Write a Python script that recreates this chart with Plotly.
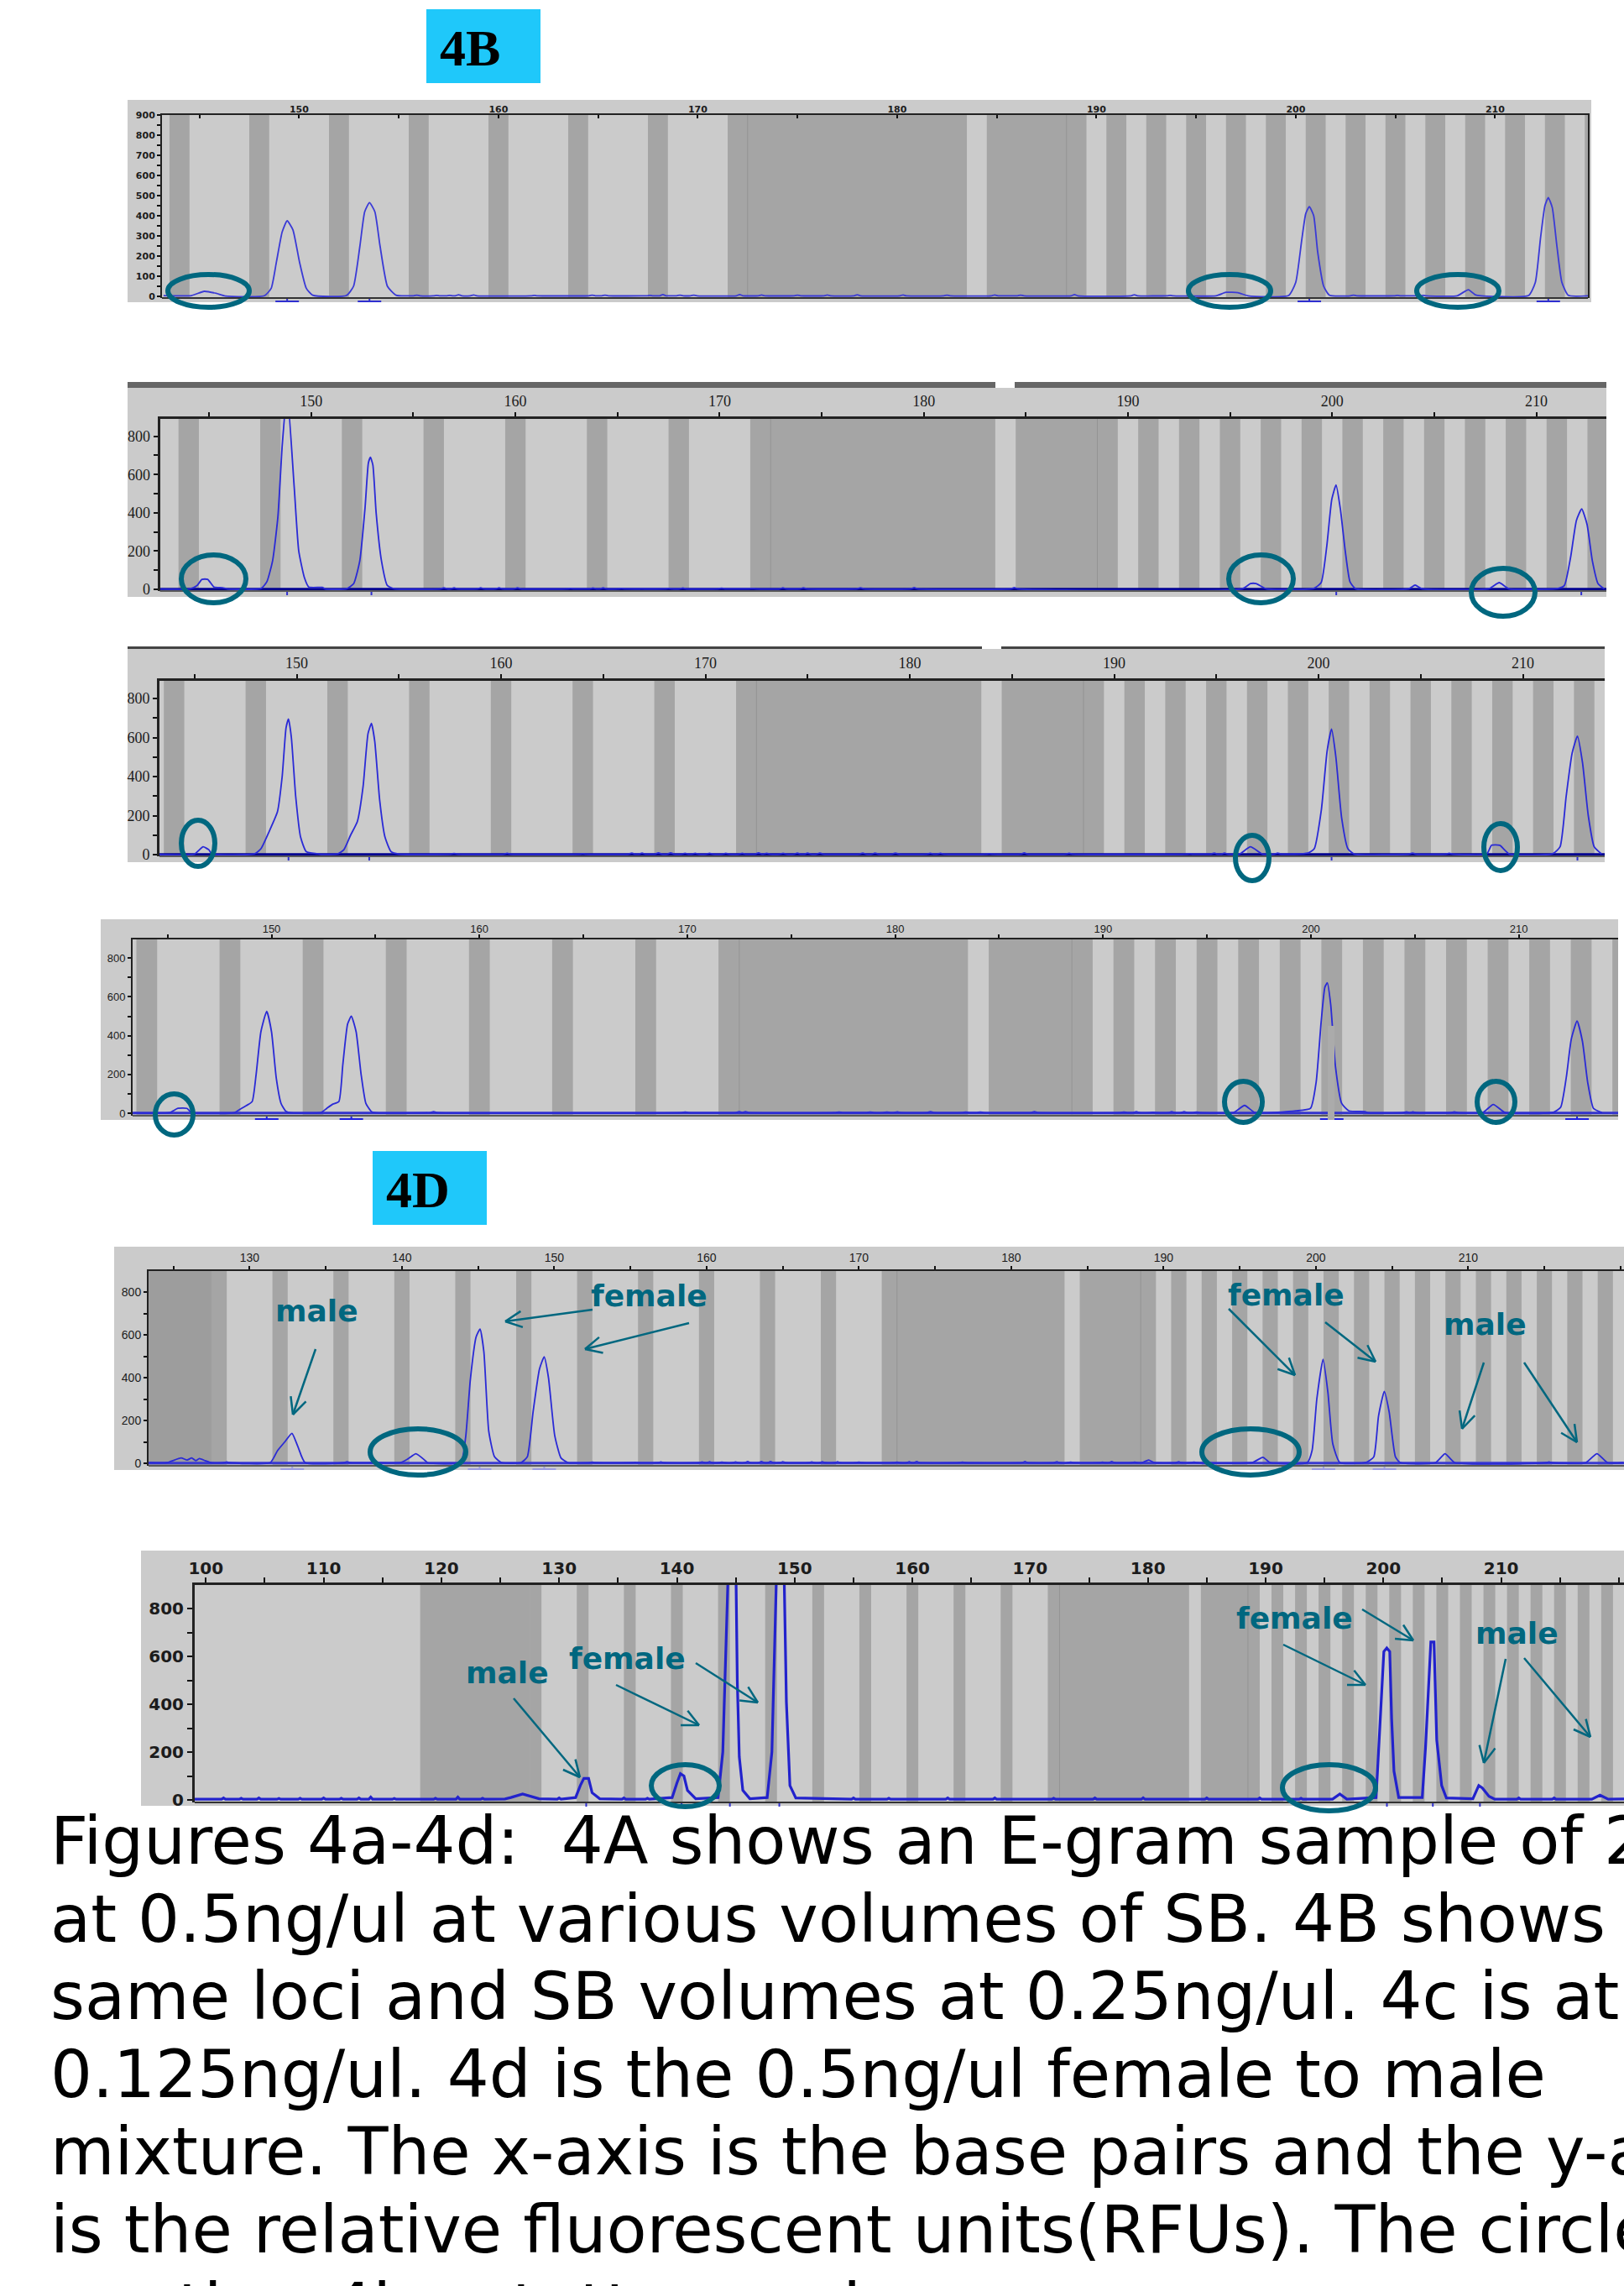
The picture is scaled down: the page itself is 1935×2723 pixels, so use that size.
import math
import plotly.graph_objects as go

W, H = 1935, 2723
TEAL = "#00677f"
LIGHT = "#cbcbcb"
DARK = "#a5a5a5"

# dark allele-bin stripes on the base-pair scale
stripe_lo = [118.2, 127.5, 131.5, 135.5, 139.5, 143.5, 147.5, 151.5, 155.5, 159.5, 163.5, 167.5, 171.5,
             184.5, 190.5, 192.5, 194.5, 196.5, 198.5, 200.5, 202.5, 204.5, 206.5, 208.5, 210.5, 212.5,
             214.5, 216.5, 218.5, 220.5]
stripe_hi = [127.5, 128.5, 132.5, 136.5, 140.5, 144.5, 148.5, 152.5, 156.5, 160.5, 164.5, 168.5, 183.5,
             189.5, 191.5, 193.5, 195.5, 197.5, 199.5, 201.5, 203.5, 205.5, 207.5, 209.5, 211.5, 213.5,
             215.5, 217.5, 219.5, 221.5]
bin_edges = [172.5, 188.5]

# ---------- panel traces: base pairs / RFU ----------
x1 = [143.2, 144.6, 145.24, 145.84, 146.3, 148.26, 148.6, 148.86, 149.15, 149.4, 149.69, 150.02, 150.36, 150.68,
      152.37, 152.73, 153.05, 153.29, 153.53, 153.8, 154.06, 154.43, 154.86,
      196.0, 196.5, 197.1, 197.6, 199.64, 200.0, 200.3, 200.5, 200.68, 200.9, 201.1, 201.4, 201.7,
      208.1, 208.66, 209.0, 209.3, 211.68, 212.02, 212.28, 212.5, 212.67, 212.87, 213.1, 213.35, 213.67, 214.66]
y1 = [4, 4, 25, 15, 2, 3, 40, 170, 320, 375, 330, 170, 40, 6,
      4, 50, 250, 420, 465, 420, 250, 50, 6,
      3, 20, 18, 3, 4, 70, 280, 410, 445, 400, 220, 50, 5,
      3, 33, 8, 3, 4, 70, 290, 450, 490, 440, 250, 70, 5, 3]
bx1 = [155.9, 156.9, 157.55, 158.0, 158.75, 161.8, 164.7, 165.35, 167.6, 168.25, 169.1, 169.8, 172.1, 173.2, 175.0,
       176.5, 178.0, 180.3, 182.5, 184.9, 186.2, 188.9, 191.9, 193.7, 202.9, 205.1, 206.4]
bh1 = [6, 5, 5, 8, 7, 5, 6, 6, 5, 9, 6, 6, 9, 7, 6, 7, 8, 7, 6, 7, 6, 9, 8, 5, 6, 5, 5]
stem1 = [149.4, 153.53, 200.68, 212.67]

x2 = [142.6, 144.06, 144.41, 144.65, 144.93, 145.24, 145.66, 145.9, 147.55, 147.83, 148.11, 148.37, 148.58, 148.82,
      149.17, 149.39, 149.67, 149.88, 150.54, 150.7, 151.72, 152.08, 152.38, 152.64, 152.8, 152.9, 153.02, 153.18,
      153.44, 153.73, 154.08, 195.6, 196.0, 196.27, 196.8, 199.1, 199.46, 199.74, 199.98, 200.19, 200.4, 200.64,
      200.87, 201.15, 203.75, 204.06, 204.4, 207.66, 208.18, 208.65, 211.06, 211.37, 211.68, 211.96, 212.22,
      212.48, 212.74, 213.02, 213.33]
y2 = [2, 3, 20, 52, 52, 12, 8, 2, 5, 40, 150, 380, 750, 1030,
      530, 200, 60, 12, 10, 2, 3, 30, 150, 430, 660, 690, 650, 400,
      150, 20, 3, 3, 30, 30, 2, 5, 35, 230, 470, 545, 420, 200,
      40, 3, 3, 22, 3, 3, 35, 3, 5, 20, 170, 360, 420,
      340, 150, 30, 2]
bx2 = [156.5, 157.0, 158.3, 159.2, 160.1, 162.7, 163.8, 164.3, 165.2, 167.5, 168.2, 170.1, 171.6, 173.1, 174.1, 176.9, 179.53, 184.43]
bh2 = [8, 8, 8, 8, 8, 5, 7, 8, 5, 5, 7, 6, 4, 8, 8, 8, 9, 9]
stem2 = [148.82, 152.95, 200.2, 212.2]

x3 = [142.8, 145.0, 145.42, 145.7, 145.85, 147.95, 148.25, 148.66, 149.06, 149.29, 149.48, 149.6, 149.74, 149.95,
      150.19, 150.47, 151.0, 151.2, 152.03, 152.31, 152.64, 152.97, 153.25, 153.49, 153.66, 153.82, 154.06, 154.32,
      154.62, 155.0, 196.13, 196.67, 197.26, 199.48, 199.79, 200.14, 200.42, 200.64, 200.85, 201.13, 201.44, 201.75,
      208.23, 208.47, 208.87, 209.34, 211.46, 211.82, 212.12, 212.41, 212.67, 212.92, 213.2, 213.49, 213.85]
y3 = [2, 3, 40, 25, 3, 5, 30, 120, 220, 400, 650, 695, 600, 300,
      90, 15, 5, 2, 5, 25, 100, 170, 350, 620, 672, 580, 280, 90,
      15, 3, 3, 40, 3, 8, 30, 230, 530, 643, 500, 190, 30, 3,
      3, 48, 48, 3, 5, 40, 300, 520, 607, 470, 200, 40, 3]
bx3 = [157.7, 160.3, 164.0, 166.4, 166.9, 167.7, 168.3, 169.0, 169.5, 170.2, 171.0, 171.8, 172.6, 173.0, 173.8, 174.5,
       175.0, 175.6, 177.7, 178.3, 179.3, 181.0, 181.5, 183.9, 185.6, 187.8, 193.7, 194.9, 195.4, 198.0, 204.6, 206.4]
bh3 = [6, 7, 5, 8, 8, 9, 9, 7, 7, 7, 7, 7, 9, 7, 7, 8, 8, 8, 8, 8, 8, 7, 7, 5, 9, 7, 5, 8, 8, 8, 8, 7]
stem3 = [149.6, 153.55, 200.64, 212.67]

x4 = [143.4, 145.09, 145.5, 145.93, 146.15, 148.22, 148.56, 148.8, 149.07, 149.26, 149.49, 149.77, 150.0, 150.23,
      150.46, 150.69, 150.95, 152.38, 152.66, 152.92, 153.24, 153.43, 153.66, 153.84, 154.07, 154.31, 154.54, 154.81,
      155.05, 196.27, 196.81, 197.31, 199.28, 199.98, 200.25, 200.49, 200.67, 200.79, 200.95, 201.18, 201.48, 201.83,
      202.6, 202.75, 208.26, 208.77, 209.35, 211.67, 212.01, 212.29, 212.52, 212.8, 213.06, 213.31, 213.59, 214.0]
y4 = [2, 3, 25, 25, 3, 3, 25, 40, 60, 200, 420, 525, 420, 180,
      50, 10, 2, 3, 25, 45, 60, 250, 460, 500, 420, 200, 50, 8,
      2, 3, 40, 3, 12, 25, 160, 470, 650, 672, 560, 240, 50, 12,
      8, 2, 3, 45, 3, 5, 30, 190, 380, 475, 370, 160, 25, 3]
bx4 = [157.8, 169.9, 172.5, 172.8, 177.3, 178.8, 179.6, 180.1, 181.7, 183.4, 184.1, 186.7, 191.0, 191.6, 192.4, 193.3, 193.9, 194.5, 204.6, 204.9, 206.9]
bh4 = [8, 6, 8, 8, 6, 6, 6, 7, 8, 6, 6, 8, 6, 8, 5, 8, 8, 6, 7, 7, 7]
stem4 = [149.77, 153.84, 201.0, 212.8]

x5 = [123.4, 124.56, 125.5, 125.9, 126.2, 126.46, 126.7, 127.09, 127.5, 131.36, 131.84, 132.31, 132.78, 133.16, 133.64,
      139.9, 140.38, 140.92, 141.49, 141.7, 143.86, 144.18, 144.49, 144.87, 145.13, 145.38, 145.7, 146.08, 146.55,
      147.82, 148.23, 148.61, 149.03, 149.34, 149.62, 150.03, 150.44, 150.9, 188.6, 189.02, 189.4, 195.82, 196.52,
      196.99, 199.43, 199.75, 200.06, 200.47, 200.79, 201.11, 201.58, 203.32, 203.8, 204.11, 204.49, 204.81, 205.22,
      205.54, 207.85, 208.48, 209.11, 217.72, 218.45, 219.15, 220.2]
y5 = [3, 3, 25, 15, 25, 12, 22, 12, 2, 3, 60, 100, 140, 80, 3,
      3, 20, 45, 15, 2, 5, 120, 390, 590, 627, 520, 150, 30, 3,
      3, 30, 240, 440, 497, 400, 130, 25, 3, 3, 15, 3, 3, 28,
      3, 3, 60, 300, 486, 330, 90, 3, 5, 30, 220, 336, 240, 30,
      3, 3, 45, 3, 3, 45, 3, 3]
bx5 = [128.5, 136.4, 138.2, 152.5, 155.3, 157.0, 159.7, 160.2, 161.0, 161.9, 162.7, 163.6, 164.2, 165.0, 166.9, 167.6, 168.6, 170.0,
       172.5, 173.3, 173.8, 176.8, 180.9, 183.0, 183.9, 186.0, 186.6, 188.1, 191.0, 192.0, 215.3]
bh5 = [6, 7, 5, 5, 4, 6, 6, 7, 5, 6, 8, 8, 8, 7, 6, 7, 7, 5, 5, 7, 8, 5, 8, 7, 5, 5, 8, 5, 7, 5, 6]
stem5 = [132.8, 145.1, 149.34, 200.5, 204.5]

x6 = [99.0, 125.4, 125.9, 126.9, 127.7, 128.3, 131.4, 131.8, 132.1, 132.5, 132.8, 133.45, 139.6, 140.0, 140.3, 140.6,
      140.9, 141.6, 143.5, 143.9, 144.15, 144.4, 145.0, 145.13, 145.3, 145.6, 146.2, 147.67, 148.07, 148.3, 148.5,
      149.08, 149.3, 149.6, 150.1, 195.68, 196.3, 196.9, 199.38, 199.5, 199.8, 200.04, 200.29, 200.54, 200.7, 200.9,
      201.3, 203.3, 203.58, 203.9, 204.03, 204.3, 204.53, 204.95, 205.35, 207.6, 208.1, 208.4, 208.97, 209.46, 217.7,
      218.4, 219.1, 220.5]
y6 = [3, 4, 10, 25, 15, 5, 10, 60, 90, 90, 30, 5, 10, 70, 110, 100,
      40, 5, 10, 200, 660, 1020, 1020, 500, 180, 40, 5, 10, 200, 660, 1020,
      1020, 410, 60, 8, 3, 25, 3, 10, 120, 396, 620, 635, 620, 340, 120,
      10, 10, 220, 520, 660, 660, 250, 60, 8, 5, 60, 50, 15, 3, 3,
      20, 3, 4]
bx6 = [101.5, 103.0, 104.5, 106.2, 108.0, 110.0, 111.5, 113.0, 114.0, 116.0, 119.5, 121.4, 123.5, 130.0, 135.5, 137.5, 155.0, 158.0, 163.0,
       167.0, 172.0, 175.5, 179.6, 185.0, 189.5, 193.0, 211.5, 214.5]
bh6 = [8, 7, 8, 6, 7, 8, 7, 8, 12, 6, 7, 12, 7, 8, 8, 7, 8, 7, 8, 8, 7, 8, 9, 8, 8, 7, 8, 8]
stem6 = [132.3, 140.4, 144.5, 148.7, 200.3, 204.2, 208.2]

ytick_1 = list(range(0, 901, 50))
ylab_1 = [str(v) if v % 100 == 0 else "" for v in ytick_1]
ytick_n = list(range(0, 901, 100))
ylab_n = [str(v) if v % 200 == 0 else "" for v in ytick_n]
xtick = list(range(100, 226, 5))
xlab = [str(v) if v % 10 == 0 else "" for v in xtick]

PANELS = [
    dict(x=x1, y=y1, bx=bx1, bh=bh1, stem=stem1, stem_bar=True, stem_c="#3030d0", l=193, r=1892, t=137, b=355,
         ref=150, refpx=356.4, s=23.75, y0=353, u=0.24, yt=ytick_1, yl=ylab_1, font="DejaVu Sans", fs=11, bold=True,
         lw=1.8, col="#3a3ad6", base=None, axw=2, tl=4, bg=(152, 1896, 119, 360), rline=True, bot="#333333", stand=-3, xticks="inside"),
    dict(x=x2, y=y2, bx=bx2, bh=bh2, stem=stem2, stem_bar=False, stem_c="#3030d0", l=190.5, r=1914, t=499, b=704,
         ref=150, refpx=370.8, s=24.33, y0=702, u=0.228, yt=ytick_n, yl=ylab_n, font="Liberation Sans Narrow", fs=18, bold=False,
         lw=1.8, col="#2a2ad6", base="#000090", axw=3, tl=5, bg=(152, 1914, 462, 711), rline=False, bot="#5a5a5a", stand=0, xticks="outside"),
    dict(x=x3, y=y3, bx=bx3, bh=bh3, stem=stem3, stem_bar=False, stem_c="#3030d0", l=190, r=1912, t=811, b=1020,
         ref=150, refpx=353.5, s=24.35, y0=1018, u=0.2325, yt=ytick_n, yl=ylab_n, font="Liberation Sans Narrow", fs=18, bold=False,
         lw=1.8, col="#2a2ad6", base="#000090", axw=3, tl=5, bg=(152, 1912, 773, 1027), rline=False, bot="#5a5a5a", stand=0, xticks="outside"),
    dict(x=x4, y=y4, bx=bx4, bh=bh4, stem=stem4, stem_bar=True, stem_c="#2020e0", l=158, r=1928, t=1119, b=1329,
         ref=150, refpx=323.5, s=24.77, y0=1326, u=0.231, yt=ytick_n, yl=ylab_n, font="Liberation Sans", fs=13, bold=False,
         lw=1.8, col="#2a2ad6", base="#3333cc", axw=2, tl=4, bg=(120, 1928, 1095, 1334), rline=False, bot="#5a5a5a", stand=-3, xticks="outside"),
    dict(x=x5, y=y5, bx=bx5, bh=bh5, stem=stem5, stem_bar=True, stem_c="#9c9ce0", l=177, r=1935, t=1514, b=1746,
         ref=150, refpx=660.4, s=18.15, y0=1743, u=0.255, yt=ytick_n, yl=ylab_n, font="Liberation Sans", fs=14, bold=False,
         lw=1.8, col="#2a2ad6", base="#3a3ad0", axw=2, tl=4, bg=(136, 1935, 1485, 1751), rline=False, bot="#5a5a5a", stand=-1, xticks="outside"),
    dict(x=x6, y=y6, bx=bx6, bh=bh6, stem=stem6, stem_bar=False, stem_c="#3030d0", l=232, r=1935, t=1888, b=2147,
         ref=150, refpx=946.8, s=14.03, y0=2144, u=0.285, yt=ytick_n, yl=ylab_n, font="DejaVu Sans", fs=20, bold=True,
         lw=3.2, col="#2222cc", base=None, axw=3, tl=6, bg=(168, 1935, 1847, 2151), rline=False, bot="#333333", stand=-4, xticks="outside"),
]

# annotation artwork, in page pixels
ELLIPSES = [(200, 297, 327, 366), (1416, 1514, 327, 366), (1688, 1786, 327, 366),
            (216, 293, 661, 718), (1464, 1541, 661, 718), (1753, 1829, 677, 734),
            (216, 256, 977, 1032), (1472, 1512, 995, 1049), (1768, 1808, 981, 1037),
            (185, 230, 1303, 1352), (1459, 1504, 1288, 1337), (1760, 1805, 1288, 1337),
            (441, 555, 1702, 1757), (1432, 1548, 1702, 1757),
            (776, 857, 2102, 2152), (1528, 1639, 2102, 2157)]
ARROWS = [(376, 1607, 349, 1685), (706, 1560, 602, 1574), (821, 1576, 697, 1607),
          (1464, 1559, 1543, 1638), (1579, 1575, 1639, 1622), (1768, 1623, 1742, 1702), (1816, 1623, 1879, 1718),
          (612, 2023, 691, 2117), (734, 2007, 833, 2055), (829, 1981, 903, 2028),
          (1529, 1959, 1627, 2007), (1623, 1917, 1684, 1954), (1794, 1976, 1768, 2100), (1816, 1975, 1895, 2069)]
LABELS = [("male", 377, 1561), ("female", 773, 1543), ("female", 1532, 1542), ("male", 1769, 1577),
          ("male", 604, 1992), ("female", 747, 1975), ("female", 1542, 1927), ("male", 1807, 1945)]
CAPTION = ["Figures 4a-4d:\u00a0\u00a04A shows an E-gram sample of 2",
           "at 0.5ng/ul at various volumes of SB. 4B shows the",
           "same loci and SB volumes at 0.25ng/ul. 4c is at",
           "0.125ng/ul. 4d is the 0.5ng/ul female to male",
           "mixture. The x-axis is the base pairs and the y-axis",
           "is the relative fluorescent units(RFUs). The circles",
           "are the -4bp stutter peaks."]
BASELINES = [2217, 2310, 2402, 2495, 2587, 2680, 2773]


def fx(p):
    return p / W


def fy(p):
    return 1 - p / H


fig = go.Figure()
shapes = []
annos = []
layout = {}


def rect(x0, x1, y0, y1, color, layer="below"):
    shapes.append(dict(type="rect", xref="paper", yref="paper", x0=fx(x0), x1=fx(x1), y0=fy(y1), y1=fy(y0),
                       fillcolor=color, line=dict(width=0), layer=layer))


for i, p in enumerate(PANELS, start=1):
    xname = "x" if i == 1 else f"x{i}"
    yname = "y" if i == 1 else f"y{i}"
    xr = [p["ref"] + (p["l"] - p["refpx"]) / p["s"], p["ref"] + (p["r"] - p["refpx"]) / p["s"]]
    yr = [(p["y0"] - p["b"]) / p["u"], (p["y0"] - p["t"]) / p["u"]]
    bl, br, bt, bb = p["bg"]
    rect(bl, br, bt, bb, LIGHT)

    for lo, hi in zip(stripe_lo, stripe_hi):
        a, b = max(lo, xr[0]), min(hi, xr[1])
        if a < b:
            shapes.append(dict(type="rect", xref=xname, yref=yname, x0=a, x1=b, y0=yr[0], y1=yr[1],
                               fillcolor=DARK, line=dict(width=0), layer="below"))
    for e in bin_edges:
        shapes.append(dict(type="line", xref=xname, yref=yname, x0=e, x1=e, y0=yr[0], y1=yr[1],
                           line=dict(color="#949494", width=1), layer="below"))

    pts = list(zip(p["x"], p["y"]))
    for bx_, bh_ in zip(p["bx"], p["bh"]):
        pts += [(bx_ - 0.16, 3), (bx_, bh_), (bx_ + 0.16, 3)]
    pts.sort()
    xs = [a for a, _ in pts]
    ys = [b for _, b in pts]
    if p["base"]:
        fig.add_trace(go.Scatter(x=[xr[0], xr[1]], y=[1, 1], mode="lines", xaxis=xname, yaxis=yname,
                                 line=dict(color=p["base"], width=3), hoverinfo="skip", showlegend=False))
    fig.add_trace(go.Scatter(x=xs, y=ys, mode="lines", xaxis=xname, yaxis=yname,
                             line=dict(color=p["col"], width=p["lw"], shape="spline" if i < 6 else "linear", smoothing=0.5),
                             showlegend=False))

    # allele stems hanging under the axis
    for c in p["stem"]:
        shapes.append(dict(type="line", xref=xname, yref="paper", x0=c, x1=c, y0=fy(p["b"] + 1), y1=fy(p["b"] + 5),
                           line=dict(color=p["stem_c"], width=2), layer="above"))
        if p["stem_bar"]:
            half = 14 / p["s"]
            shapes.append(dict(type="line", xref=xname, yref="paper", x0=c - half, x1=c + half,
                               y0=fy(p["b"] + 4), y1=fy(p["b"] + 4),
                               line=dict(color=p["stem_c"], width=2), layer="above"))
    # bottom rule
    rect(p["l"], p["r"], p["b"] - 1, p["b"] + 1, p["bot"], layer="above")

    tfont = dict(family=p["font"], size=p["fs"], color="#1c1c1c", weight=700 if p["bold"] else 400)
    layout["xaxis" if i == 1 else f"xaxis{i}"] = dict(
        domain=[fx(p["l"]), fx(p["r"])], range=xr, anchor=yname, side="top", tickmode="array",
        tickvals=xtick, ticktext=xlab, ticks=p["xticks"], ticklen=p["tl"], tickwidth=2, tickcolor="#111",
        showgrid=False, zeroline=False, showline=True, mirror=False, linecolor="#222", linewidth=p["axw"],
        tickfont=tfont, automargin=False, ticklabelstandoff=p["stand"])
    layout["yaxis" if i == 1 else f"yaxis{i}"] = dict(
        domain=[fy(p["b"]), fy(p["t"])], range=yr, anchor=xname, tickmode="array",
        tickvals=p["yt"], ticktext=p["yl"], ticks="outside", ticklen=p["tl"], tickwidth=2, tickcolor="#111",
        showgrid=False, zeroline=False, showline=True, mirror=p["rline"], linecolor="#222", linewidth=p["axw"],
        tickfont=tfont, automargin=False)

# panel 5's darker left block, panel 4's grey marker bar
lo5, hi5 = layout["xaxis5"]["range"][0], 127.5
shapes.append(dict(type="rect", xref="x5", yref="y5", x0=lo5, x1=hi5, y0=layout["yaxis5"]["range"][0],
                   y1=layout["yaxis5"]["range"][1], fillcolor="#9d9d9d", line=dict(width=0), layer="below"))
rect(1582, 1590, 1222, 1334, "#ababab", layer="above")

# dark header rules
rect(152, 1186, 455, 462, "#666666")
rect(1209, 1914, 455, 462, "#666666")
rect(152, 1170, 770, 773, "#444444")
rect(1193, 1912, 770, 773, "#444444")

for x0, x1_, y0, y1_ in ELLIPSES:
    shapes.append(dict(type="circle", xref="paper", yref="paper", x0=fx(x0), x1=fx(x1_), y0=fy(y1_), y1=fy(y0),
                       line=dict(color=TEAL, width=6), layer="above"))

for ax, ay, bx, by in ARROWS:
    segs = [(ax, ay, bx, by)]
    ang = math.atan2(ay - by, ax - bx)
    for d in (-0.45, 0.45):
        segs.append((bx, by, bx + 22 * math.cos(ang + d), by + 22 * math.sin(ang + d)))
    for a0, a1, b0, b1 in segs:
        shapes.append(dict(type="line", xref="paper", yref="paper", x0=fx(a0), y0=fy(a1), x1=fx(b0), y1=fy(b1),
                           line=dict(color=TEAL, width=2.5), layer="above"))

for text, px, py in LABELS:
    annos.append(dict(text=f"<b>{text}</b>", x=fx(px), y=fy(py), xref="paper", yref="paper", showarrow=False,
                      xanchor="center", yanchor="middle", font=dict(family="DejaVu Sans", size=36, color=TEAL)))

# figure tags
for text, x0, x1_, y0, y1_, tx, ty in [("4B", 508, 644, 11, 99, 560, 57), ("4D", 444, 580, 1371, 1459, 498, 1417)]:
    rect(x0, x1_, y0, y1_, "#1fc8fa", layer="above")
    annos.append(dict(text=f"<b>{text}</b>", x=fx(tx), y=fy(ty), xref="paper", yref="paper", showarrow=False,
                      xanchor="center", yanchor="middle", font=dict(family="Liberation Serif", size=62, color="#000")))

for line, base in zip(CAPTION, BASELINES):
    annos.append(dict(text=line, x=fx(60), y=fy(base + 22), xref="paper", yref="paper", showarrow=False,
                      xanchor="left", yanchor="bottom", borderpad=0, borderwidth=0,
                      font=dict(family="DejaVu Sans", size=78.6, color="#000")))

fig.update_layout(width=W, height=H, margin=dict(l=0, r=0, t=0, b=0), paper_bgcolor="#ffffff", plot_bgcolor=LIGHT,
                  showlegend=False, shapes=shapes, annotations=annos, **layout)
fig.write_html("out.html", config=dict(displayModeBar=False),
               post_script="document.body.style.margin='0';document.documentElement.style.overflow='hidden';")
